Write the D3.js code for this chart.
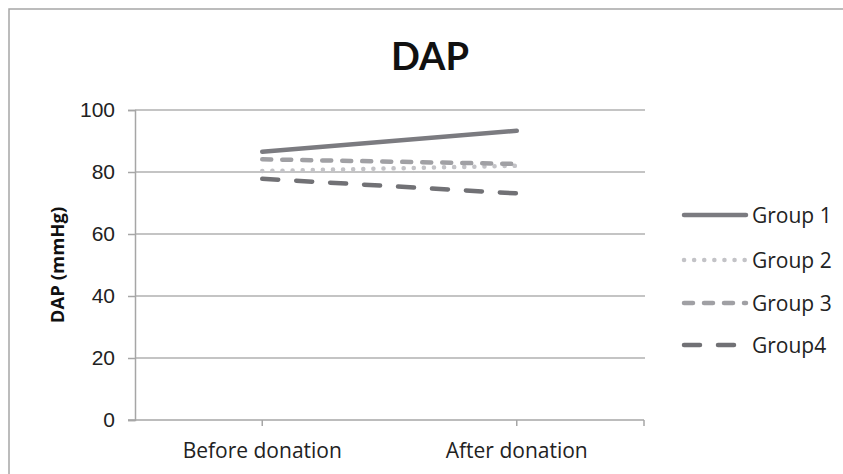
<!DOCTYPE html>
<html>
<head>
<meta charset="utf-8">
<script src="https://cdn.jsdelivr.net/npm/d3@7"></script>
<style>
  body { margin: 0; background: #fff; }
  svg { display: block; font-family: "Open Sans", Lato, sans-serif; }
</style>
</head>
<body>
<svg id="chart" width="843" height="474"></svg>
<script>
// 데이터
const categories = ["Before donation", "After donation"];
const groupNames = ["Group 1", "Group 2", "Group 3", "Group4"];
const group1 = [86.5, 93.3];
const group2 = [80.3, 82.0];
const group3 = [84.1, 82.6];
const group4 = [77.8, 73.1];
const yTicks = [0, 20, 40, 60, 80, 100];

const series = [
  { name: groupNames[0], values: group1, color: "#7b7b80", dash: null },
  { name: groupNames[1], values: group2, color: "#c3c3c7", dash: "0.1 10" },
  { name: groupNames[2], values: group3, color: "#a0a0a4", dash: "9 11" },
  { name: groupNames[3], values: group4, color: "#717175", dash: "16 18" },
];

const svg = d3.select("#chart");
const plot = { left: 135, right: 644, top: 110, bottom: 420 };

// 외곽 테두리
svg.append("rect")
  .attr("x", 9).attr("y", 9)
  .attr("width", 850).attr("height", 480)
  .attr("fill", "none").attr("stroke", "#a6a6a6").attr("stroke-width", 1.5);

// 스케일
const x = d3.scalePoint().domain(categories)
  .range([plot.left, plot.right]).padding(0.5);
const y = d3.scaleLinear().domain([0, 100]).range([plot.bottom, plot.top]);

// 그리드 (0 제외)
svg.append("g").selectAll("line")
  .data(yTicks.filter((d) => d > 0))
  .join("line")
  .attr("x1", plot.left).attr("x2", plot.right + 1)
  .attr("y1", (d) => y(d)).attr("y2", (d) => y(d))
  .attr("stroke", "#b0b0b0").attr("stroke-width", 1.5);

// y축
const yAxis = svg.append("g")
  .attr("transform", `translate(${plot.left},0)`)
  .call(d3.axisLeft(y).tickValues(yTicks).tickSize(7).tickPadding(13));
yAxis.select(".domain").attr("stroke", "#a6a6a6").attr("stroke-width", 1.5);
yAxis.selectAll(".tick line").attr("stroke", "#a6a6a6").attr("stroke-width", 1.5);
yAxis.selectAll(".tick text").attr("font-size", 21).attr("fill", "#222");

// x축 (눈금: 카테고리 중앙 + 오른쪽 끝)
const xAxis = svg.append("g").attr("transform", `translate(0,${plot.bottom})`);
xAxis.append("line")
  .attr("x1", plot.left - 7).attr("x2", plot.right)
  .attr("stroke", "#a6a6a6").attr("stroke-width", 1.5);
xAxis.selectAll(".xt")
  .data([...categories.map((c) => x(c)), plot.right])
  .join("line").attr("class", "xt")
  .attr("x1", (d) => d).attr("x2", (d) => d)
  .attr("y1", 0).attr("y2", 6)
  .attr("stroke", "#a6a6a6").attr("stroke-width", 1.5);
xAxis.selectAll("text")
  .data(categories)
  .join("text")
  .attr("x", (d) => x(d)).attr("y", 38)
  .attr("text-anchor", "middle")
  .attr("font-size", 21).attr("fill", "#222")
  .text((d) => d);

// 제목
svg.append("text")
  .attr("x", 430).attr("y", 70)
  .attr("text-anchor", "middle")
  .attr("font-family", "Lato, sans-serif")
  .attr("font-size", 38).attr("font-weight", "bold").attr("fill", "#111")
  .text("DAP");

// y축 제목
svg.append("text")
  .attr("transform", "translate(64,265) rotate(-90)")
  .attr("text-anchor", "middle")
  .attr("font-size", 18.5).attr("font-weight", "bold").attr("fill", "#111")
  .text("DAP (mmHg)");

// 선
const line = d3.line()
  .x((d, i) => x(categories[i]))
  .y((d) => y(d));

svg.append("g").selectAll("path")
  .data(series)
  .join("path")
  .attr("d", (d) => line(d.values))
  .attr("fill", "none")
  .attr("stroke", (d) => d.color)
  .attr("stroke-width", 4.5)
  .attr("stroke-linecap", "round")
  .attr("stroke-dasharray", (d) => d.dash);

// 범례
const legendY = [215, 260, 303, 345];
const legend = svg.append("g").selectAll("g")
  .data(series)
  .join("g")
  .attr("transform", (d, i) => `translate(682,${legendY[i]})`);
legend.append("line")
  .attr("x1", 2).attr("x2", 64)
  .attr("stroke", (d) => d.color)
  .attr("stroke-width", 4.5)
  .attr("stroke-linecap", "round")
  .attr("stroke-dasharray", (d) => d.dash);
legend.append("text")
  .attr("x", 70).attr("y", 7.5)
  .attr("font-size", 21).attr("fill", "#222")
  .text((d) => d.name);
</script>
</body>
</html>
